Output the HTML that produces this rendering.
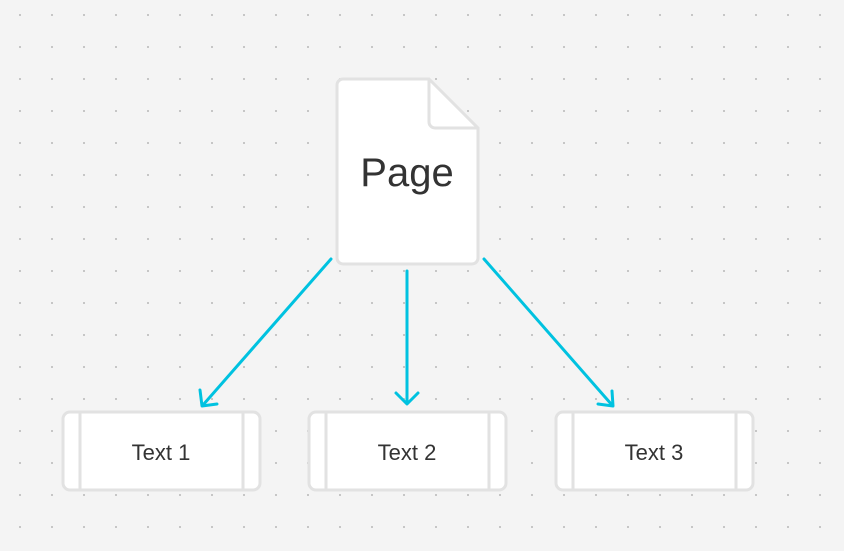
<!DOCTYPE html>
<html><head><style>
body{margin:0;width:844px;height:546px;overflow:hidden;background:#f4f4f4;}
</style></head><body>
<svg width="844" height="546" xmlns="http://www.w3.org/2000/svg">
<defs>
<pattern id="d" x="19" y="14" width="32" height="32" patternUnits="userSpaceOnUse">
<circle cx="1" cy="1" r="1" fill="#b8b8b8"/></pattern>
</defs>
<rect width="844" height="546" fill="#f4f4f4"/>
<rect width="844" height="546" fill="url(#d)"/>
<path d="M343,79 H429 L478,128 V258 a6,6 0 0 1 -6,6 H343 a6,6 0 0 1 -6,-6 V85 a6,6 0 0 1 6,-6Z" fill="#fff" stroke="#e2e2e2" stroke-width="3"/>
<path d="M429,79 V122 a6,6 0 0 0 6,6 H478" fill="none" stroke="#e2e2e2" stroke-width="3"/>
<text x="407" y="186" font-family="Liberation Sans, sans-serif" font-size="40" fill="#333" text-anchor="middle">Page</text>
<g stroke="#00c2e0" stroke-width="3" fill="none" stroke-linecap="round" stroke-linejoin="round">
<line x1="331" y1="259" x2="203" y2="405"/><path d="M200,390 L202,406 L217,404"/>
<line x1="407" y1="271" x2="407" y2="403"/><path d="M396,393 L407,404 L418,393"/>
<line x1="484" y1="259" x2="612" y2="405"/><path d="M598,404 L613,406 L612,391"/>
</g>
<g fill="#fff" stroke="#e2e2e2" stroke-width="3" font-family="Liberation Sans, sans-serif">
<rect x="63" y="412" width="197" height="78" rx="7"/><line x1="80" y1="412" x2="80" y2="490"/><line x1="243" y1="412" x2="243" y2="490"/>
<rect x="309" y="412" width="197" height="78" rx="7"/><line x1="326" y1="412" x2="326" y2="490"/><line x1="489" y1="412" x2="489" y2="490"/>
<rect x="556" y="412" width="197" height="78" rx="7"/><line x1="573" y1="412" x2="573" y2="490"/><line x1="736" y1="412" x2="736" y2="490"/>
</g>
<g font-family="Liberation Sans, sans-serif" font-size="22" fill="#333" text-anchor="middle">
<text x="161" y="460">Text 1</text>
<text x="407" y="460">Text 2</text>
<text x="654" y="460">Text 3</text>
</g>
</svg>
</body></html>
